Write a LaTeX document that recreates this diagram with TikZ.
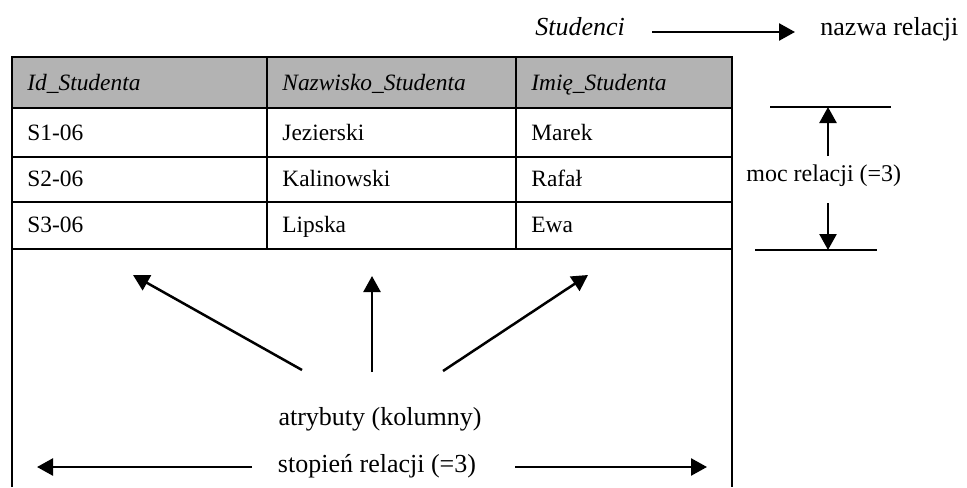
\documentclass[tikz,border=0pt]{standalone}
\usepackage{fontspec}
\setmainfont{Liberation Serif}
\usetikzlibrary{arrows.meta}
\definecolor{headgray}{RGB}{179,179,179}
\begin{document}
\begin{tikzpicture}[x=0.5pt,y=-0.5pt,
  grid/.style={line width=1pt},
  cell/.style={anchor=base west,inner sep=0pt,font=\fontsize{11.7}{14}\selectfont},
  head/.style={cell,font=\fontsize{11.7}{14}\selectfont\itshape},
  note/.style={inner sep=0pt,font=\fontsize{13}{15}\selectfont},
  arr/.style={line width=1.25pt,-{Triangle[length=8pt,width=8.5pt]}},
  ]
\useasboundingbox (0,0) rectangle (967,487);

% relation name
\node[note,anchor=base west,font=\fontsize{13}{15}\selectfont\itshape] (relname) at (535,35) {Studenci};
\node[note,anchor=base west] (relnamelbl) at (820,35) {nazwa relacji};
\coordinate (rn-from) at (652,32);
\coordinate (rn-to) at (795,32);
\draw[arr] (rn-from) -- (rn-to);

% table frame and grid
\fill[headgray] (12,57) rectangle (732,108);
\draw[grid] (12,487) -- (12,57) -- (732,57) -- (732,487);
\draw[grid] (12,108) -- (732,108) (12,157) -- (732,157)
            (12,202) -- (732,202) (12,249) -- (732,249);
\draw[grid] (267,57) -- (267,249) (516,57) -- (516,249);

% header
\node[head] (h1) at (27,90) {Id\_Studenta};
\node[head] (h2) at (282,90) {Nazwisko\_Studenta};
\node[head] (h3) at (531,90) {Imię\_Studenta};

% rows
\node[cell] (r1c1) at (27,140) {S1-06};
\node[cell] (r1c2) at (282,140) {Jezierski};
\node[cell] (r1c3) at (531,140) {Marek};
\node[cell] (r2c1) at (27,186) {S2-06};
\node[cell] (r2c2) at (282,186) {Kalinowski};
\node[cell] (r2c3) at (531,186) {Rafał};
\node[cell] (r3c1) at (27,232) {S3-06};
\node[cell] (r3c2) at (282,232) {Lipska};
\node[cell] (r3c3) at (531,232) {Ewa};

% cardinality
\draw[grid] (770,107) -- (891,107);
\draw[grid] (755,250) -- (877,250);
\node[note,anchor=base west,font=\fontsize{12}{14}\selectfont] (card) at (746,181) {moc relacji (=3)};
\coordinate (card-up-from) at (828,156);
\coordinate (card-up-to) at (828,107);
\coordinate (card-dn-from) at (828,203);
\coordinate (card-dn-to) at (828,250);
\draw[arr] (card-up-from) -- (card-up-to);
\draw[arr] (card-dn-from) -- (card-dn-to);

% attributes
\node[note,anchor=base] (attr) at (380,425) {atrybuty (kolumny)};
\coordinate (a1-from) at (302,370);
\coordinate (a1-to) at (133,275);
\coordinate (a2-from) at (372,372);
\coordinate (a2-to) at (372,276);
\coordinate (a3-from) at (443,371);
\coordinate (a3-to) at (588,275);
\draw[arr] (a1-from) -- (a1-to);
\draw[arr] (a2-from) -- (a2-to);
\draw[arr] (a3-from) -- (a3-to);

% degree
\node[note,anchor=base] (deg) at (377,472) {stopień relacji (=3)};
\coordinate (d-l-from) at (252,467);
\coordinate (d-l-to) at (37,467);
\coordinate (d-r-from) at (515,467);
\coordinate (d-r-to) at (707,467);
\draw[arr] (d-l-from) -- (d-l-to);
\draw[arr] (d-r-from) -- (d-r-to);
\end{tikzpicture}
\end{document}
